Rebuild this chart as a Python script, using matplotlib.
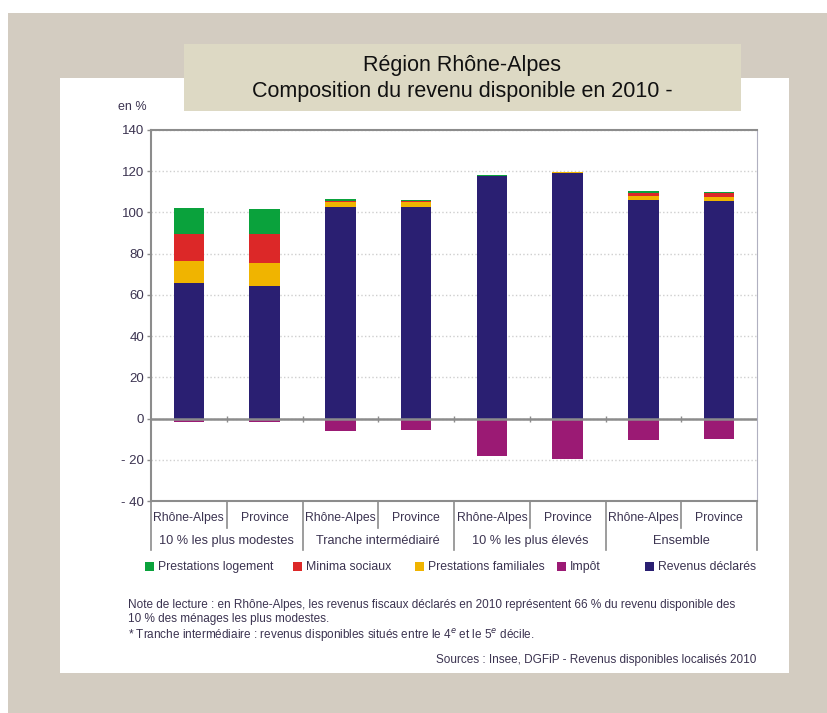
import matplotlib.pyplot as plt
from matplotlib.patches import Rectangle
import numpy as np

# Données (en % du revenu disponible)
categories = ["Rhône-Alpes", "Province"] * 4
groups = ["10 % les plus modestes", "Tranche intermédiairé", "10 % les plus élevés", "Ensemble"]
revenus = [66, 64.5, 102.5, 102.7, 117.5, 119, 106, 105.5]
familiales = [10.5, 11, 2.5, 2.3, 0.3, 0.4, 2, 2.2]
minima = [13, 14, 0.4, 0.4, 0.1, 0.1, 1.2, 1.5]
logement = [12.5, 12, 1, 0.8, 0.1, 0.1, 1, 0.8]
impot = [-1.5, -1.5, -6, -5.5, -18, -19.5, -10.2, -9.8]

legend_labels = ["Prestations logement", "Minima sociaux", "Prestations familiales", "Impôt", "Revenus déclarés"]
colors = ["#0aa23c", "#dc2828", "#f0b400", "#9b1a74", "#2a1f72"]

txt = "#3b3350"
plt.rcParams['font.family'] = ['Liberation Sans', 'DejaVu Sans']

W, H = 827, 713
fig = plt.figure(figsize=(W / 100, H / 100), dpi=100)
fig.patch.set_facecolor("#d3ccc1")

def px_rect(x0, y0, x1, y1, color, z=-10):
    fig.patches.append(Rectangle((x0 / W, 1 - y1 / H), (x1 - x0) / W, (y1 - y0) / H,
                                 transform=fig.transFigure, facecolor=color, edgecolor='none', zorder=z))

# fond : marges blanches, panneau blanc, bandeau du titre
px_rect(0, 0, W, 13, "white")
px_rect(0, 0, 8, H, "white")
px_rect(60, 78, 789, 673, "white")
px_rect(184, 44, 741, 111, "#ddd9c4")

fig.text(462 / W, 1 - 65 / H, "Région Rhône-Alpes", ha='center', va='center', fontsize=15.5, color="#111111")
fig.text(462 / W, 1 - 91 / H, "Composition du revenu disponible en 2010 -", ha='center', va='center',
         fontsize=15.5, color="#111111")

ax = fig.add_axes([151 / W, 1 - 501 / H, 606 / W, 371 / H])
ax.set_zorder(5)
ax.set_facecolor("white")
x = np.arange(len(categories))
w = 0.4

ax.bar(x, revenus, w, color=colors[4], zorder=3)
b1 = np.array(revenus)
ax.bar(x, familiales, w, bottom=b1, color=colors[2], zorder=3)
b2 = b1 + np.array(familiales)
ax.bar(x, minima, w, bottom=b2, color=colors[1], zorder=3)
b3 = b2 + np.array(minima)
ax.bar(x, logement, w, bottom=b3, color=colors[0], zorder=3)
ax.bar(x, impot, w, color=colors[3], zorder=3)

ax.set_xlim(-0.5, len(categories) - 0.5)
ax.set_ylim(-40, 140)
ax.set_yticks(range(-40, 141, 20))
ax.set_yticklabels([("- " + str(-v)) if v < 0 else str(v) for v in range(-40, 141, 20)])
ax.tick_params(axis='y', labelsize=9.5, colors="#8c8c8c", labelcolor=txt, length=3, width=1, pad=2)
ax.yaxis.grid(True, linestyle=':', color="#cfcfcf", linewidth=1)
ax.set_axisbelow(True)
ax.axhline(0, color="#8c8c8c", linewidth=1.8, zorder=4)

for s in ['left', 'bottom', 'top']:
    ax.spines[s].set_color("#8c8c8c")
    ax.spines[s].set_linewidth(1.5)
ax.spines['right'].set_color("#b0b0c0")
ax.spines['right'].set_linewidth(0.8)

# petites graduations sur la ligne zéro
bounds = np.arange(-0.5, len(categories), 1.0)
ax.plot(bounds[1:-1], np.zeros(len(bounds) - 2), '|', color="#8c8c8c", ms=4, zorder=5)

# étiquettes des catégories et des groupes
ax.set_xticks(x)
ax.set_xticklabels(categories, fontsize=8.8, color=txt)
ax.tick_params(axis='x', length=0, pad=8)
trans = ax.get_xaxis_transform()
for i, b in enumerate(bounds):
    depth = -0.133 if i % 2 == 0 else -0.073
    ax.plot([b, b], [0, depth], color="#8c8c8c", linewidth=1.2, transform=trans, clip_on=False)
for g, name in enumerate(groups):
    ax.text(2 * g + 0.5, -0.108, name, transform=trans, ha='center', va='center',
            fontsize=9.2, color=txt)

# légende
leg_x = [145, 293, 415, 557, 645]
for lx, lab, c in zip(leg_x, legend_labels, colors):
    px_rect(lx, 562, lx + 9, 571, c, z=1)
    fig.text((lx + 13) / W, 1 - 567 / H, lab, ha='left', va='center', fontsize=8.8, color=txt)

fig.text(128 / W, 1 - 605 / H, "Note de lecture : en Rhône-Alpes, les revenus fiscaux déclarés en 2010 représentent "
         "66 % du revenu disponible des", fontsize=8.5, color=txt, va='center')
fig.text(128 / W, 1 - 619 / H, "10 % des ménages les plus modestes.", fontsize=8.5, color=txt, va='center')
fig.text(128 / W, 1 - 636 / H, "* Tranche intermédiaire : revenus disponibles situés entre le 4$^e$ et le 5$^e$ décile.",
         fontsize=8.5, color=txt, va='center')
fig.text(756 / W, 1 - 660 / H, "Sources : Insee, DGFiP - Revenus disponibles localisés 2010",
         fontsize=8.5, color=txt, va='center', ha='right')

fig.text(118 / W, 1 - 107 / H, "en %", fontsize=9, color=txt, va='center')

plt.savefig("out.png", dpi=100, facecolor=fig.get_facecolor())
